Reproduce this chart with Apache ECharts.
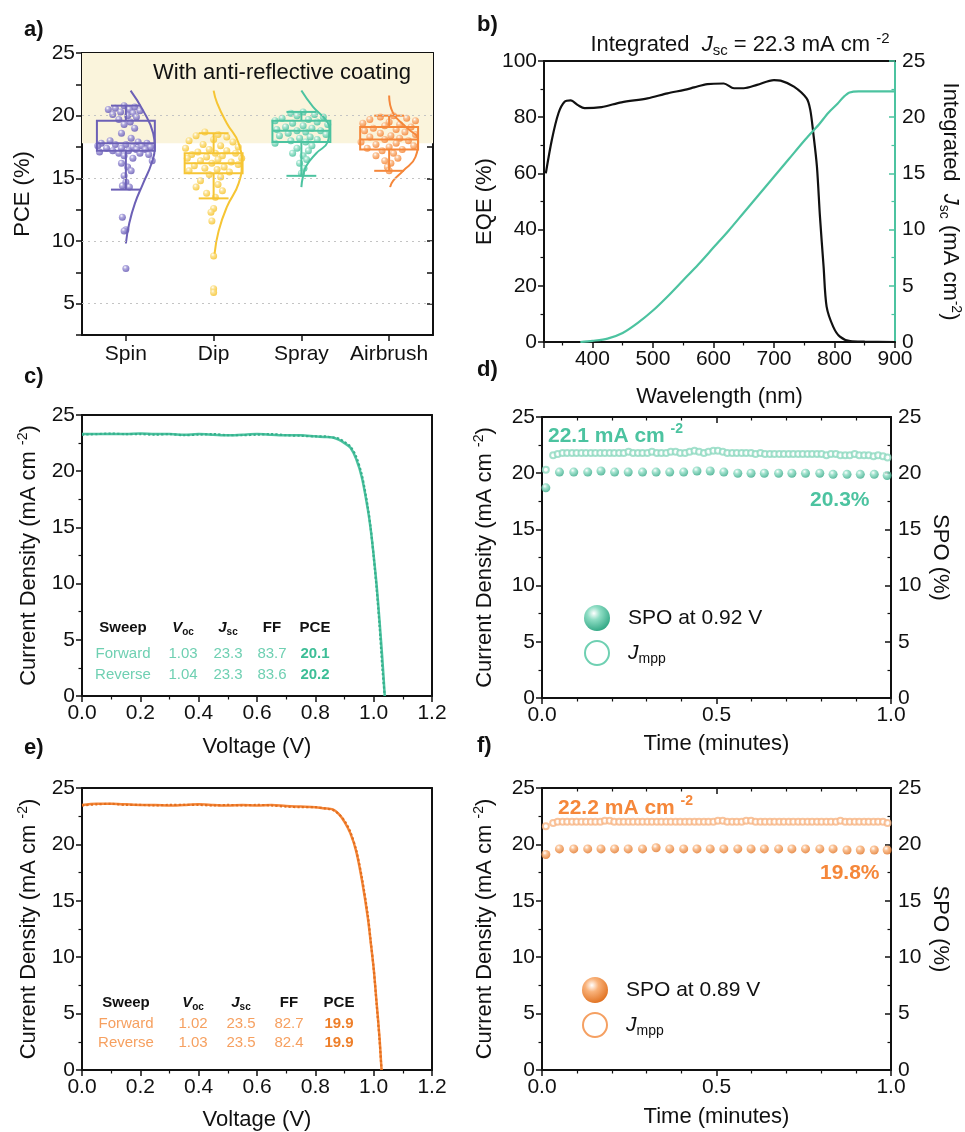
<!DOCTYPE html>
<html><head><meta charset="utf-8">
<script src="https://cdn.jsdelivr.net/npm/echarts@6/dist/echarts.min.js"></script>
<style>html,body{margin:0;padding:0;background:#fff}#c{width:965px;height:1132px}</style>
</head><body><div id="c"></div>
<script>
// ---------------- DATA ----------------
const methods = ['Spin', 'Dip', 'Spray', 'Airbrush'];
const spinPCE = [20.8,20.7,20.6,20.5,20.5,20.4,20.3,20.2,20.1,20.0,19.9,19.7,19.5,19.3,19.0,18.6,18.2,18.0,17.9,17.8,17.8,17.7,17.7,17.6,17.6,17.5,17.5,17.4,17.4,17.3,17.3,17.2,17.2,17.1,17.0,17.0,16.9,16.8,16.6,16.4,16.2,15.9,15.6,15.2,14.7,14.4,14.3,11.9,10.9,10.8,7.8];
const spinJit = [-0.02,0.10,-0.12,0.04,-0.20,0.16,-0.06,0.08,-0.15,0.02,0.12,-0.08,0.05,-0.02,0.10,-0.05,0.06,-0.18,0.14,-0.28,0.24,0.00,-0.12,0.18,-0.32,0.08,0.28,-0.22,-0.05,0.12,0.22,-0.15,0.03,-0.30,0.16,-0.08,0.26,-0.02,0.08,0.30,-0.05,0.02,0.06,-0.02,0.00,-0.04,0.04,-0.04,0.00,-0.02,0.00];
const dipPCE = [18.7,18.5,18.4,18.3,18.1,18.0,17.9,17.7,17.6,17.5,17.4,17.3,17.2,17.1,17.0,17.0,16.9,16.8,16.7,16.6,16.6,16.5,16.4,16.3,16.2,16.1,16.0,15.9,15.8,15.7,15.6,15.5,15.3,15.1,14.8,14.5,14.3,14.0,13.8,13.5,12.6,12.3,11.6,8.8,6.2,5.9];
const dipJit = [-0.10,0.05,-0.20,0.15,0.00,-0.28,0.22,-0.12,0.08,0.28,-0.32,-0.05,0.15,-0.18,0.02,0.25,-0.25,0.10,-0.08,0.32,-0.30,0.05,-0.15,0.20,-0.02,0.28,-0.22,0.12,-0.10,0.04,-0.28,0.18,-0.05,0.08,-0.15,0.05,-0.20,0.10,-0.08,0.02,0.00,-0.03,-0.02,0.00,0.00,0.00];
const sprayPCE = [20.3,20.2,20.1,20.0,19.9,19.8,19.7,19.6,19.5,19.4,19.3,19.2,19.1,19.0,18.9,18.8,18.8,18.7,18.6,18.5,18.4,18.3,18.2,18.1,18.0,17.9,17.8,17.6,17.4,17.2,17.0,16.8,16.5,16.2,15.8,15.4];
const sprayJit = [0.02,-0.12,0.15,-0.05,0.25,-0.22,0.08,-0.30,0.18,-0.10,0.30,0.02,-0.18,0.12,-0.28,0.22,-0.05,0.05,-0.15,0.28,-0.25,0.10,-0.02,0.18,-0.12,0.05,-0.30,0.12,-0.05,0.08,-0.10,0.02,0.06,-0.02,0.03,0.00];
const airPCE = [20.0,19.9,19.8,19.7,19.6,19.5,19.4,19.3,19.2,19.1,19.0,18.9,18.8,18.7,18.6,18.5,18.4,18.3,18.2,18.1,18.0,17.9,17.8,17.7,17.6,17.5,17.4,17.3,17.2,17.0,16.8,16.6,16.4,16.2,15.9,15.6];
const airJit = [0.05,-0.10,0.20,-0.22,0.30,0.00,-0.30,0.12,-0.05,0.25,-0.18,0.08,-0.28,0.18,-0.10,0.30,0.02,-0.22,0.12,-0.05,0.22,-0.32,0.08,-0.15,0.28,0.00,-0.25,0.15,-0.08,0.05,-0.15,0.10,-0.05,0.02,-0.02,0.00];

const boxMin = [14.1, 13.4, 15.2, 15.6];
const boxQ1  = [17.2, 15.4, 17.9, 17.3];
const boxMed = [17.8, 16.2, 18.8, 18.1];
const boxQ3  = [19.6, 17.0, 19.6, 19.1];
const boxMax = [20.8, 18.6, 20.3, 20.0];

const spinViolinY  = [22.0,20.4,18.6,17.5,16.2,14.6,13.0,11.4,9.8];
const spinViolinW  = [0.054,0.197,0.311,0.33,0.293,0.197,0.103,0.038,0.0];
const dipViolinY   = [22.0,21.0,19.4,17.8,16.2,14.6,12.7,10.8,9.0];
const dipViolinW   = [0.0,0.04,0.15,0.285,0.32,0.285,0.15,0.057,0.011];
const sprayViolinY = [22.0,20.7,19.6,18.8,17.9,17.0,16.0,15.1,14.3];
const sprayViolinW = [0.0,0.133,0.285,0.32,0.30,0.17,0.057,0.017,0.0];
const airViolinY   = [21.6,20.2,19.1,18.0,16.7,15.6,14.8,14.3];
const airViolinW   = [0.0,0.045,0.19,0.33,0.30,0.16,0.045,0.011];

const eqeNm  = [323,333,344,354,364,376,387,415,448,491,524,552,568,590,617,634,650,672,700,711,733,754,760,765,771,776,782,787,798,809,826,850,900];
const eqeVal = [60,72,81.5,85.5,86,84.3,83.2,83.6,85.3,86.7,88.5,89.7,90.6,91.8,92,90.3,90.3,91.5,93.2,93,90.9,86.7,82.6,74.3,62.4,44.6,26.8,12.6,5.4,1.9,0.3,0.1,0];
const jscNm  = [380,400,425,450,475,500,525,550,575,600,625,650,675,700,725,750,765,775,790,805,815,825,840,900];
const jscVal = [0,0.1,0.3,0.8,1.7,2.8,4.1,5.5,6.9,8.4,9.9,11.5,13.1,14.7,16.3,17.9,18.8,19.4,20.4,21.2,21.8,22.2,22.3,22.3];

const cV    = [0,0.05,0.10,0.15,0.20,0.25,0.30,0.35,0.40,0.45,0.50,0.55,0.60,0.65,0.70,0.75,0.80,0.83,0.86,0.88,0.90,0.92,0.94,0.96,0.98,0.99,1.00,1.01,1.02,1.03,1.038];
const cJrev = [23.3,23.3,23.3,23.3,23.35,23.3,23.3,23.25,23.3,23.25,23.2,23.25,23.3,23.25,23.2,23.2,23.1,23.05,23.0,22.8,22.5,22.1,21.1,19.4,16.6,14.8,12.5,9.9,6.7,3.2,0];
const cJfwd = [23.25,23.3,23.35,23.3,23.3,23.25,23.3,23.2,23.25,23.3,23.2,23.2,23.25,23.3,23.2,23.15,23.1,23.1,23.0,22.9,22.6,22.2,21.3,19.6,16.8,14.9,12.4,9.6,6.3,2.4,0];
const eV    = [0,0.05,0.10,0.15,0.20,0.25,0.30,0.35,0.40,0.45,0.50,0.55,0.60,0.65,0.70,0.75,0.80,0.83,0.86,0.88,0.90,0.92,0.94,0.96,0.98,0.99,1.00,1.01,1.02,1.027];
const eJrev = [23.5,23.6,23.6,23.55,23.5,23.5,23.45,23.5,23.55,23.5,23.45,23.5,23.45,23.5,23.4,23.35,23.3,23.2,23.1,22.7,22.0,21.0,19.4,16.8,13.5,11.3,9.0,6.0,2.9,0];
const eJfwd = [23.45,23.55,23.6,23.5,23.5,23.45,23.5,23.5,23.5,23.45,23.5,23.45,23.5,23.45,23.35,23.3,23.3,23.2,23.05,22.7,22.1,21.1,19.5,17.0,13.7,11.4,9.0,5.9,2.7,0];

const spoTime = [0.011,0.050,0.091,0.131,0.169,0.208,0.247,0.288,0.327,0.366,0.406,0.444,0.482,0.521,0.561,0.599,0.637,0.678,0.716,0.755,0.796,0.834,0.874,0.912,0.952,0.989];
const dSPO = [18.7,20.1,20.1,20.1,20.2,20.1,20.1,20.1,20.1,20.1,20.1,20.2,20.2,20.1,20.0,20.0,20.0,20.0,20.0,20.0,20.0,19.9,19.9,19.9,19.9,19.8];
const fSPO = [19.1,19.6,19.6,19.6,19.6,19.6,19.6,19.6,19.7,19.6,19.6,19.6,19.6,19.6,19.6,19.6,19.6,19.6,19.6,19.6,19.6,19.6,19.5,19.5,19.5,19.5];
const mppTime = [0.011,0.032,0.045,0.059,0.072,0.086,0.099,0.113,0.126,0.140,
  0.153,0.167,0.180,0.194,0.207,0.221,0.234,0.248,0.261,0.275,
  0.288,0.302,0.315,0.329,0.342,0.356,0.369,0.383,0.396,0.410,
  0.423,0.437,0.450,0.464,0.477,0.491,0.504,0.518,0.531,0.545,
  0.558,0.572,0.585,0.599,0.612,0.626,0.639,0.653,0.666,0.680,
  0.693,0.707,0.720,0.734,0.747,0.761,0.774,0.788,0.801,0.815,
  0.828,0.842,0.855,0.869,0.882,0.896,0.909,0.923,0.936,0.950,
  0.963,0.977,0.990];
const dJmpp = [20.3,21.6,21.7,21.8,21.8,21.8,21.8,21.8,21.8,21.8,
  21.8,21.8,21.8,21.8,21.8,21.8,21.8,21.9,21.8,21.8,
  21.8,21.8,21.9,21.8,21.8,21.8,21.9,21.9,21.8,21.8,
  21.9,22.0,21.9,21.8,21.9,22.0,22.0,21.9,21.8,21.8,
  21.8,21.8,21.8,21.8,21.7,21.8,21.7,21.7,21.7,21.7,
  21.7,21.7,21.7,21.7,21.7,21.7,21.7,21.7,21.7,21.6,
  21.7,21.7,21.6,21.6,21.6,21.7,21.6,21.6,21.6,21.5,
  21.6,21.5,21.4];
const fJmpp = [21.6,21.9,22.0,22.0,22.0,22.0,22.0,22.0,22.0,22.0,
  22.0,22.0,22.1,22.1,22.0,22.0,22.0,22.0,22.0,22.0,
  22.0,22.0,22.0,22.0,22.0,22.0,22.0,22.0,22.0,22.0,
  22.0,22.0,22.0,22.0,22.0,22.0,22.1,22.1,22.0,22.0,
  22.0,22.0,22.1,22.1,22.0,22.0,22.0,22.0,22.0,22.0,
  22.0,22.0,22.0,22.0,22.0,22.0,22.0,22.0,22.0,22.0,
  22.0,22.0,22.1,22.0,22.0,22.0,22.0,22.0,22.0,22.0,
  22.0,22.0,21.9];

const cRows = [['Forward','1.03','23.3','83.7','20.1'],['Reverse','1.04','23.3','83.6','20.2']];
const eRows = [['Forward','1.02','23.5','82.7','19.9'],['Reverse','1.03','23.5','82.4','19.9']];

// ---------------- STYLE ----------------
const FONT = '"Liberation Sans", Arial, Helvetica, sans-serif';
const K = '#111111';
const PURPLE = '#6C60B6', YELLOW = '#F6C534', TEAL = '#4CC3A0', ORANGE = '#F5873A';
const mColors = [PURPLE, YELLOW, TEAL, ORANGE];
const mLight = ['#A79FDB', '#FBE08A', '#9FE3CD', '#FABD8C'];

function sphere(light, dark) {
  return new echarts.graphic.RadialGradient(0.38, 0.32, 0.72, [
    {offset: 0, color: '#ffffff'}, {offset: 0.35, color: light}, {offset: 1, color: dark}]);
}

const NFS = 22;
const RICH_AX = {
  n: {fontSize: NFS, fontFamily: FONT, color: K},
  i: {fontSize: NFS, fontFamily: FONT, color: K, fontStyle: 'italic'},
  sup: {fontSize: 14, fontFamily: FONT, color: K, padding: [0, 0, 12, 0]},
  sub: {fontSize: 14, fontFamily: FONT, color: K, padding: [12, 0, 0, 0]}
};

function vAxis(p) {
  const col = p.color || K;
  const a = {
    type: 'value', gridIndex: p.grid, position: p.pos, min: p.min, max: p.max,
    axisLine: {show: true, onZero: false, lineStyle: {color: col, width: 2}},
    axisTick: {show: p.ticks !== false, inside: !!p.inside, length: 6, lineStyle: {color: col, width: 1.5}},
    minorTick: {show: p.ticks !== false && p.minor !== false, splitNumber: p.minorSplit || 2, length: 3.5, lineStyle: {color: col, width: 1.2}},
    axisLabel: {show: !!p.labels, color: K, fontSize: 21, fontFamily: FONT, margin: p.margin || 7, showMinLabel: p.showMin, formatter: p.fmt},
    splitLine: {show: false}
  };
  if (p.interval != null) a.interval = p.interval;
  if (p.name) {
    a.name = p.name; a.nameLocation = 'middle'; a.nameGap = p.gap; a.nameRotate = p.rot;
    a.nameTextStyle = {color: K, fontSize: NFS, fontFamily: FONT, rich: RICH_AX};
  }
  return a;
}
const f1 = v => v.toFixed(1);
const JNAME = 'Current Density (mA cm {sup|-2}{n|)}';

const grids = [
  {left: 82, top: 53, width: 351, height: 282},
  {left: 544, top: 61, width: 351, height: 281},
  {left: 82, top: 415, width: 350, height: 281},
  {left: 542, top: 417, width: 349, height: 281},
  {left: 82, top: 788, width: 350, height: 282},
  {left: 542, top: 788, width: 349, height: 282}
];

const catAxisBase = {
  type: 'category', gridIndex: 0, data: methods, boundaryGap: true,
  axisLine: {show: true, onZero: false, lineStyle: {color: K, width: 2}},
  splitLine: {show: false}
};

const xAxes = [
  Object.assign({}, catAxisBase, {position: 'bottom',
    axisTick: {show: true, alignWithLabel: true, interval: 0, length: 6, lineStyle: {color: K, width: 1.5}},
    axisLabel: {color: K, fontSize: 21, fontFamily: FONT, margin: 9, interval: 0}}),
  {type: 'value', gridIndex: 0, min: 0.5, max: 4.5, show: false},
  Object.assign({}, catAxisBase, {position: 'top',
    axisTick: {show: true, inside: true, alignWithLabel: true, interval: 0, length: 6, lineStyle: {color: K, width: 1.5}},
    axisLabel: {show: false}}),
  vAxis({grid: 1, pos: 'bottom', min: 320, max: 900, labels: true, showMin: false, name: 'Wavelength (nm)', gap: 44}),
  vAxis({grid: 1, pos: 'top', min: 320, max: 900, ticks: false}),
  vAxis({grid: 2, pos: 'bottom', min: 0, max: 1.2, interval: 0.2, labels: true, fmt: f1, name: 'Voltage (V)', gap: 40}),
  vAxis({grid: 2, pos: 'top', min: 0, max: 1.2, interval: 0.2, ticks: false}),
  vAxis({grid: 3, pos: 'bottom', min: 0, max: 1, interval: 0.5, minorSplit: 5, labels: true, fmt: f1, name: 'Time (minutes)', gap: 35}),
  vAxis({grid: 3, pos: 'top', min: 0, max: 1, interval: 0.5, minorSplit: 5, inside: true}),
  vAxis({grid: 4, pos: 'bottom', min: 0, max: 1.2, interval: 0.2, labels: true, fmt: f1, name: 'Voltage (V)', gap: 39}),
  vAxis({grid: 4, pos: 'top', min: 0, max: 1.2, interval: 0.2, ticks: false}),
  vAxis({grid: 5, pos: 'bottom', min: 0, max: 1, interval: 0.5, minorSplit: 5, labels: true, fmt: f1, name: 'Time (minutes)', gap: 36}),
  vAxis({grid: 5, pos: 'top', min: 0, max: 1, interval: 0.5, minorSplit: 5, inside: true})
];

const yAxes = [
  vAxis({grid: 0, pos: 'left', min: 2.5, max: 25, interval: 2.5, minor: false, labels: true,
         fmt: v => (Math.abs(v % 5) < 1e-9 ? String(v) : ''), name: 'PCE (%)', gap: 48, rot: 90}),
  vAxis({grid: 0, pos: 'right', min: 2.5, max: 25, interval: 2.5, minor: false, inside: true}),
  vAxis({grid: 1, pos: 'left', min: 0, max: 100, interval: 20, labels: true, name: 'EQE (%)', gap: 48, rot: 90}),
  vAxis({grid: 1, pos: 'right', min: 0, max: 25, interval: 5, labels: true, inside: true, color: TEAL,
         name: '{n|Integrated  }{i|J}{sub|sc}{n| (mA cm}{sup|-2}{n|)}', gap: 42, rot: -90}),
  vAxis({grid: 2, pos: 'left', min: 0, max: 25, interval: 5, labels: true, name: JNAME, gap: 40, rot: 90}),
  vAxis({grid: 2, pos: 'right', min: 0, max: 25, interval: 5, ticks: false}),
  vAxis({grid: 3, pos: 'left', min: 0, max: 25, interval: 5, labels: true, name: JNAME, gap: 44, rot: 90}),
  vAxis({grid: 3, pos: 'right', min: 0, max: 25, interval: 5, labels: true, inside: true, name: 'SPO (%)', gap: 38, rot: -90}),
  vAxis({grid: 4, pos: 'left', min: 0, max: 25, interval: 5, labels: true, name: JNAME, gap: 40, rot: 90}),
  vAxis({grid: 4, pos: 'right', min: 0, max: 25, interval: 5, ticks: false}),
  vAxis({grid: 5, pos: 'left', min: 0, max: 25, interval: 5, labels: true, name: JNAME, gap: 44, rot: 90}),
  vAxis({grid: 5, pos: 'right', min: 0, max: 25, interval: 5, labels: true, inside: true, name: 'SPO (%)', gap: 38, rot: -90})
];

// ---------------- SERIES ----------------
const series = [];
series.push({
  type: 'line', xAxisIndex: 1, yAxisIndex: 0, data: [[0.5, 25]], showSymbol: false, symbolSize: 0,
  silent: true, z: 0, lineStyle: {width: 0},
  markArea: {silent: true, itemStyle: {color: '#FAF4DC'}, data: [[{yAxis: 17.8}, {yAxis: 25}]]},
  markLine: {silent: true, symbol: ['none', 'none'], label: {show: false},
    lineStyle: {color: '#C4C4C4', type: [2, 4], width: 1.2},
    data: [{yAxis: 5}, {yAxis: 10}, {yAxis: 15}, {yAxis: 20}]}
});
const pceSets = [[spinPCE, spinJit], [dipPCE, dipJit], [sprayPCE, sprayJit], [airPCE, airJit]];
pceSets.forEach((s, k) => {
  series.push({
    type: 'scatter', xAxisIndex: 1, yAxisIndex: 0, z: 2, symbolSize: 7,
    data: s[0].map((v, i) => [k + 1 + s[1][i], v]),
    itemStyle: {color: sphere(mLight[k], mColors[k]), opacity: 0.9}
  });
});
series.push({
  type: 'custom', xAxisIndex: 1, yAxisIndex: 0, z: 3,
  data: boxMin.map((m, i) => [i + 1, m, boxQ1[i], boxMed[i], boxQ3[i], boxMax[i]]),
  encode: {x: 0, y: [1, 2, 3, 4, 5]},
  renderItem: function (params, api) {
    const c = api.value(0), lo = api.value(1), q1 = api.value(2), md = api.value(3), q3 = api.value(4), hi = api.value(5);
    const hw = 0.33, cw = 0.17;
    const P = (x, y) => api.coord([x, y]);
    const st = {stroke: mColors[params.dataIndex], lineWidth: 2, fill: null};
    const tl = P(c - hw, q3), br = P(c + hw, q1);
    const ln = (a, b) => ({type: 'line', shape: {x1: a[0], y1: a[1], x2: b[0], y2: b[1]}, style: st});
    return {type: 'group', children: [
      {type: 'rect', shape: {x: tl[0], y: tl[1], width: br[0] - tl[0], height: br[1] - tl[1]}, style: st},
      ln(P(c - hw, md), P(c + hw, md)),
      ln(P(c, q1), P(c, lo)), ln(P(c, q3), P(c, hi)),
      ln(P(c - cw, lo), P(c + cw, lo)), ln(P(c - cw, hi), P(c + cw, hi))
    ]};
  }
});
const violins = [[spinViolinY, spinViolinW], [dipViolinY, dipViolinW], [sprayViolinY, sprayViolinW], [airViolinY, airViolinW]];
violins.forEach((v, k) => {
  series.push({
    type: 'line', xAxisIndex: 1, yAxisIndex: 0, z: 4, smooth: 0.5, symbol: 'none',
    data: v[0].map((y, i) => [k + 1 + v[1][i], y]),
    lineStyle: {color: mColors[k], width: 2}
  });
});
series.push({type: 'line', xAxisIndex: 3, yAxisIndex: 2, smooth: 0.3, symbol: 'none',
  data: eqeNm.map((x, i) => [x, eqeVal[i]]), lineStyle: {color: K, width: 2.2}});
series.push({type: 'line', xAxisIndex: 3, yAxisIndex: 3, smooth: 0.3, symbol: 'none',
  data: jscNm.map((x, i) => [x, jscVal[i]]), lineStyle: {color: TEAL, width: 2.2}});
series.push({type: 'line', xAxisIndex: 5, yAxisIndex: 4, smooth: 0.3, symbol: 'none',
  data: cV.map((x, i) => [x, cJrev[i]]), lineStyle: {color: TEAL, width: 2.5}});
series.push({type: 'line', xAxisIndex: 5, yAxisIndex: 4, smooth: 0.3, symbol: 'none',
  data: cV.map((x, i) => [x, cJfwd[i]]), lineStyle: {color: '#36B08C', width: 2.2, type: 'dotted'}});
series.push({type: 'line', xAxisIndex: 9, yAxisIndex: 8, smooth: 0.3, symbol: 'none',
  data: eV.map((x, i) => [x, eJrev[i]]), lineStyle: {color: ORANGE, width: 2.5}});
series.push({type: 'line', xAxisIndex: 9, yAxisIndex: 8, smooth: 0.3, symbol: 'none',
  data: eV.map((x, i) => [x, eJfwd[i]]), lineStyle: {color: '#E36F1E', width: 2.2, type: 'dotted'}});
series.push({type: 'scatter', xAxisIndex: 7, yAxisIndex: 6, symbol: 'emptyCircle', symbolSize: 6, z: 2,
  data: mppTime.map((t, i) => [t, dJmpp[i]]), itemStyle: {color: '#8ED9C0', borderWidth: 1.2}});
series.push({type: 'scatter', xAxisIndex: 7, yAxisIndex: 7, symbolSize: 9, z: 3,
  data: spoTime.map((t, i) => [t, dSPO[i]]), itemStyle: {color: sphere('#8EDDC4', '#2FA683')}});
series.push({type: 'scatter', xAxisIndex: 11, yAxisIndex: 10, symbol: 'emptyCircle', symbolSize: 6, z: 2,
  data: mppTime.map((t, i) => [t, fJmpp[i]]), itemStyle: {color: '#F8B585', borderWidth: 1.2}});
series.push({type: 'scatter', xAxisIndex: 11, yAxisIndex: 11, symbolSize: 9, z: 3,
  data: spoTime.map((t, i) => [t, fSPO[i]]), itemStyle: {color: sphere('#F9B27A', '#E0701F')}});

// ---------------- TEXT / GRAPHICS ----------------
function T(x, y, text, o) {
  o = o || {};
  const fs = o.size || 21;
  const col = o.color || K;
  const w = o.weight || 'normal';
  return {type: 'text', x: x, y: y, z: 100, silent: true, style: {
    text: text, fill: col, fontSize: fs, fontFamily: FONT, fontWeight: w,
    align: o.align || 'left', verticalAlign: 'middle', textAlign: o.align || 'left', textVerticalAlign: 'middle',
    rich: {
      i: {fontSize: fs, fontFamily: FONT, fontStyle: 'italic', fontWeight: w, fill: col},
      sub: {fontSize: Math.round(fs * 0.66), fontFamily: FONT, fontWeight: w, fill: col, padding: [Math.round(fs * 0.55), 0, 0, 0]},
      sup: {fontSize: Math.round(fs * 0.66), fontFamily: FONT, fontWeight: w, fill: col, padding: [0, 0, Math.round(fs * 0.6), 0]}
    }
  }};
}
const graphics = [];
[['a)', 24, 30], ['b)', 477, 25], ['c)', 24, 377], ['d)', 477, 370], ['e)', 24, 748], ['f)', 477, 746]].forEach(p => {
  graphics.push(T(p[1], p[2], p[0], {size: 22, weight: 'bold'}));
});
graphics.push(T(282, 73, 'With anti-reflective coating', {size: 22, align: 'center'}));
graphics.push(T(740, 45, 'Integrated  {i|J}{sub|sc} = 22.3 mA cm {sup|-2}', {size: 22, align: 'center'}));

function table(cols, ys, rows, color, boldColor) {
  const head = ['Sweep', '{i|V}{sub|oc}', '{i|J}{sub|sc}', 'FF', 'PCE'];
  head.forEach((h, j) => graphics.push(T(cols[j], ys[0], h, {size: 15, weight: 'bold', align: 'center'})));
  rows.forEach((r, i) => r.forEach((v, j) => graphics.push(T(cols[j], ys[i + 1], v,
    {size: 15, align: 'center', color: j === 4 ? boldColor : color, weight: j === 4 ? 'bold' : 'normal'}))));
}
table([123, 183, 228, 272, 315], [628, 654, 675], cRows, '#6FD0B2', '#3DBE97');
table([126, 193, 241, 289, 339], [1003, 1024, 1043], eRows, '#F6A060', '#EE7F2A');

function spoPanel(color, light, dark, open, t1, t1x, t1y, t2, t2x, t2y, leg, lx, ly1, ly2) {
  graphics.push(T(t1x, t1y, t1 + ' {sup|-2}', {size: 21, weight: 'bold', color: color}));
  graphics.push(T(t2x, t2y, t2, {size: 21, weight: 'bold', color: color}));
  graphics.push({type: 'circle', z: 100, silent: true, shape: {cx: lx, cy: ly1, r: 13}, style: {fill: sphere(light, dark)}});
  graphics.push({type: 'circle', z: 100, silent: true, shape: {cx: lx, cy: ly2, r: 12}, style: {fill: '#fff', stroke: open, lineWidth: 2}});
  graphics.push(T(lx + 31, ly1, leg, {size: 21}));
  graphics.push(T(lx + 31, ly2, '{i|J}{sub|mpp}', {size: 21}));
}
spoPanel(TEAL, '#8EDDC4', '#2FA683', '#6FD0B2', '22.1 mA cm', 548, 436, '20.3%', 810, 500, 'SPO at 0.92 V', 597, 618, 653);
spoPanel(ORANGE, '#F9B27A', '#E0701F', '#F5A062', '22.2 mA cm', 558, 808, '19.8%', 820, 873, 'SPO at 0.89 V', 595, 990, 1025);

const chart = echarts.init(document.getElementById('c'), null, {renderer: 'canvas'});
chart.setOption({
  backgroundColor: '#ffffff',
  animation: false,
  grid: grids,
  xAxis: xAxes,
  yAxis: yAxes,
  series: series,
  graphic: {elements: graphics}
});
</script></body></html>
